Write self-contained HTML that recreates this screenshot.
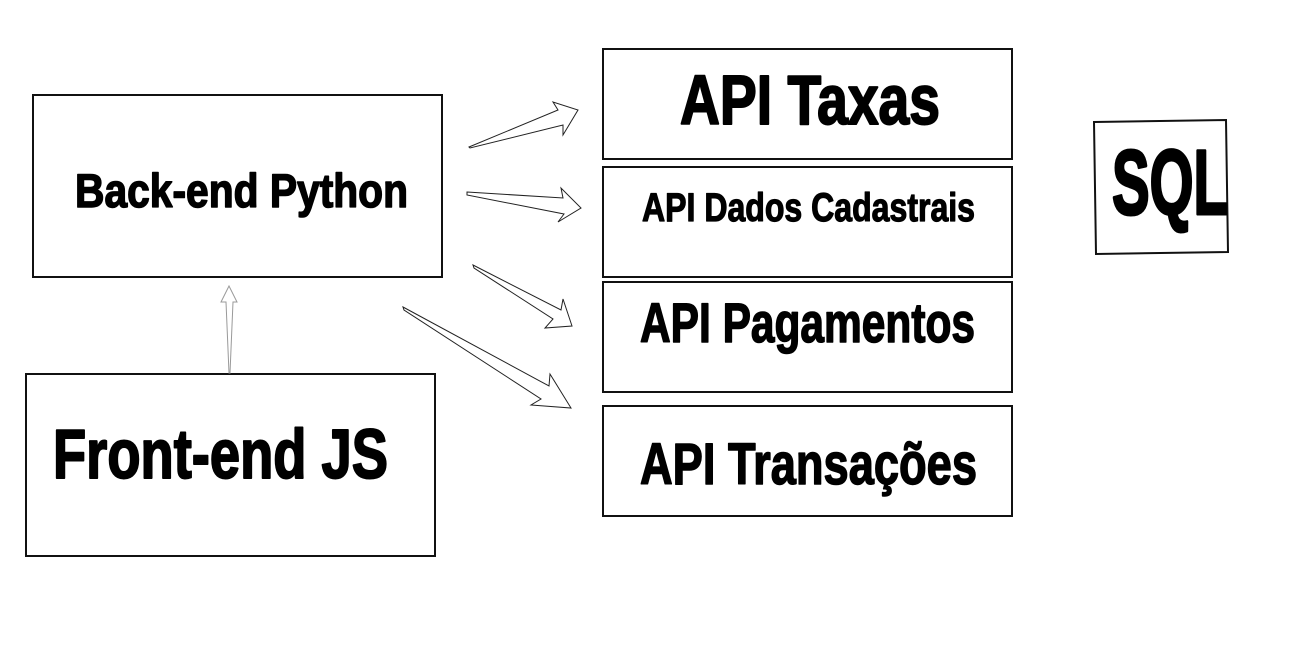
<!DOCTYPE html>
<html><head><meta charset="utf-8"><style>
html,body{margin:0;padding:0;background:#fff;width:1311px;height:667px;overflow:hidden}
svg{display:block}
text{font-family:"Liberation Sans",sans-serif;font-weight:bold;fill:#000;stroke:#000;stroke-linejoin:round}
</style></head><body>
<svg width="1311" height="667" viewBox="0 0 1311 667" xmlns="http://www.w3.org/2000/svg">
<rect width="1311" height="667" fill="#fff"/>
<g fill="none" stroke="#111" stroke-width="2">
<rect x="33" y="95" width="409" height="182"/>
<rect x="26" y="374" width="409" height="182"/>
<rect x="603" y="49" width="409" height="110"/>
<rect x="603" y="167" width="409" height="110"/>
<rect x="603" y="282" width="409" height="110"/>
<rect x="603" y="406" width="409" height="110"/>
<polygon points="1094,122 1226,120 1228,252 1096,254"/>
</g>
<g fill="#fff" stroke="#222" stroke-width="1">
<polygon points="469,147 558,110 553,102 578,110 563,135 563,125 470,148"/>
<polygon points="467,192 563,198 561,188 581,208 558,222 564,214 467,195"/>
<polygon points="473,265 561,310 563,299 572,326 545,328 553,319 474,268"/>
<polygon points="403,307 549,386 550,374 571,408 531,405 541,399 404,310"/>
</g>
<polygon points="230,373 233,302 237,302 229,286 221,302 226,302 229,373" fill="#fff" stroke="#999" stroke-width="1"/>
<text x="75" y="207" font-size="47" stroke-width="1.5" textLength="333" lengthAdjust="spacingAndGlyphs">Back-end Python</text>
<text x="53" y="478" font-size="70" stroke-width="2" textLength="335" lengthAdjust="spacingAndGlyphs">Front-end JS</text>
<text x="680" y="124" font-size="70" stroke-width="2" textLength="260" lengthAdjust="spacingAndGlyphs">API Taxas</text>
<text x="642" y="221" font-size="40" stroke-width="1.2" textLength="333" lengthAdjust="spacingAndGlyphs">API Dados Cadastrais</text>
<text x="640" y="342" font-size="56" stroke-width="1.5" textLength="335" lengthAdjust="spacingAndGlyphs">API Pagamentos</text>
<text x="640" y="484" font-size="58" stroke-width="1.5" textLength="337" lengthAdjust="spacingAndGlyphs">API Transações</text>
<text x="1112" y="214" font-size="92" stroke-width="3" textLength="116" lengthAdjust="spacingAndGlyphs">SQL</text>
</svg>
</body></html>
